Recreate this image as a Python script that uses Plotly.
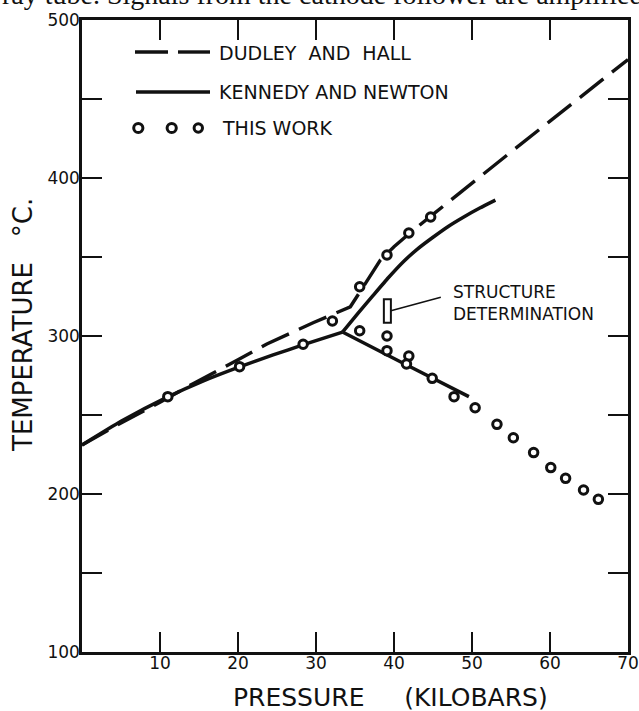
import plotly.graph_objects as go

# ---------------- data ----------------
dudley_hall_P = [0, 5, 10, 14.3, 20, 23.7, 29.7, 34.4, 36.3, 38.25, 40, 42, 45, 50, 55, 60, 65, 70]
dudley_hall_T = [231, 245, 258, 270, 285, 295, 308.5, 318.5, 333, 348, 356.5, 365, 377, 397, 416.5, 436, 455.5, 475]

kn_low_P = [0, 5, 11, 15.5, 20.2, 24.5, 28.4, 33.4]
kn_low_T = [231, 246, 261.5, 271.5, 280.5, 288, 294.5, 302.5]

kn_up_P = [33.4, 35.4, 37.3, 39.3, 41.2, 43, 45, 47, 49, 51, 53.0]
kn_up_T = [302.5, 314.5, 325.5, 337, 347, 355, 362.5, 369.5, 375.5, 381, 386]

kn_down_P = [33.4, 41.5, 49.6]
kn_down_T = [302.5, 282, 261.6]

this_work_P = [11.0, 20.2, 28.35, 32.1, 35.6, 35.6, 39.1, 39.1, 39.1, 41.9, 41.9, 41.6,
               44.7, 44.9, 47.7, 50.4, 53.2, 55.3, 57.9, 60.1, 62.0, 64.3, 66.2]
this_work_T = [261.6, 280.6, 294.8, 309.5, 331.2, 303.3, 351.3, 300.0, 290.7, 365.2, 287.3, 282.3,
               375.3, 273.2, 261.6, 254.6, 244.1, 235.6, 226.2, 216.7, 209.9, 202.5, 196.6]

structure_P = [38.7, 39.6]
structure_T = [308.4, 323.2]

x_tickvals = [0, 10, 20, 30, 40, 50, 60, 70]
x_ticktext = ["", "10", "20", "30", "40", "50", "60", "70"]
y_tickvals = [100, 150, 200, 250, 300, 350, 400, 450, 500]
y_ticktext = ["100", "", "200", "", "300", "", "400", "", "500"]

# ---------------- figure ----------------
W, H = 639, 711
L, R, T, B = 82, 11, 20, 59
PW, PH = W - L - R, H - T - B

def px(xp):
    return (xp - L) / PW

def py(yp):
    return (H - B - yp) / PH

FONT = "DejaVu Sans"
BLACK = "#111111"

fig = go.Figure()

fig.add_trace(go.Scatter(x=dudley_hall_P, y=dudley_hall_T, mode="lines",
                         line=dict(color=BLACK, width=3.4, dash="30px,11px"),
                         showlegend=False, hoverinfo="skip"))
for xs, ys in [(kn_low_P, kn_low_T), (kn_up_P, kn_up_T), (kn_down_P, kn_down_T)]:
    fig.add_trace(go.Scatter(x=xs, y=ys, mode="lines",
                             line=dict(color=BLACK, width=3.5, shape="spline", smoothing=0.5),
                             showlegend=False, hoverinfo="skip"))
fig.add_trace(go.Scatter(x=this_work_P, y=this_work_T, mode="markers",
                         marker=dict(symbol="circle", size=8.5, color="white",
                                     line=dict(color=BLACK, width=3)),
                         showlegend=False, hoverinfo="skip"))

# structure determination rectangle + leader
fig.add_shape(type="rect", x0=structure_P[0], x1=structure_P[1],
              y0=structure_T[0], y1=structure_T[1],
              line=dict(color=BLACK, width=2), fillcolor="white")
fig.add_shape(type="line", x0=structure_P[1], y0=316, x1=46.0, y1=324.5,
              line=dict(color=BLACK, width=1.5))
fig.add_annotation(x=47.3, y=321.2, xref="x", yref="y", xanchor="left", yanchor="middle",
                   text="STRUCTURE<br>DETERMINATION", showarrow=False, align="left",
                   font=dict(family=FONT, size=17, color=BLACK))

# legend (hand drawn like the reference)
fig.add_shape(type="line", xref="paper", yref="paper", x0=px(135), x1=px(168), y0=py(52), y1=py(52),
              line=dict(color=BLACK, width=3.4))
fig.add_shape(type="line", xref="paper", yref="paper", x0=px(178), x1=px(210), y0=py(52), y1=py(52),
              line=dict(color=BLACK, width=3.4))
fig.add_shape(type="line", xref="paper", yref="paper", x0=px(136), x1=px(210), y0=py(92), y1=py(92),
              line=dict(color=BLACK, width=3.5))
for cx, r in [(138.3, 4.6), (171.7, 4.6), (198.3, 4.2)]:
    fig.add_shape(type="circle", xref="paper", yref="paper",
                  xsizemode="pixel", ysizemode="pixel",
                  xanchor=px(cx), yanchor=py(128),
                  x0=-r, x1=r, y0=-r, y1=r,
                  line=dict(color=BLACK, width=3), fillcolor="white")
for txt, xp, yp in [("DUDLEY  AND  HALL", 217, 53), ("KENNEDY AND NEWTON", 217, 92), ("THIS WORK", 220, 128)]:
    fig.add_annotation(x=px(xp), y=py(yp), xref="paper", yref="paper", xanchor="left", yanchor="middle",
                       text=txt, showarrow=False, font=dict(family=FONT, size=19, color=BLACK))

# axis titles
fig.add_annotation(x=px(390), y=py(697), xref="paper", yref="paper", xanchor="center", yanchor="middle",
                   text="PRESSURE     (KILOBARS)", showarrow=False,
                   font=dict(family=FONT, size=25, color=BLACK))
fig.add_annotation(x=px(23), y=py(325), xref="paper", yref="paper", xanchor="center", yanchor="middle",
                   text="TEMPERATURE   °C.", showarrow=False, textangle=-90,
                   font=dict(family=FONT, size=26, color=BLACK))

# cut-off line of page text above the figure
fig.add_annotation(x=px(322), y=py(-6), xref="paper", yref="paper", xanchor="center", yanchor="middle",
                   text="ray tube. Signals from the cathode follower are amplified", showarrow=False,
                   font=dict(family="Liberation Serif", size=28, color=BLACK))

axis_common = dict(showgrid=False, zeroline=False, showline=True, linecolor=BLACK, linewidth=2.5,
                   mirror="allticks", ticks="inside", ticklen=20, tickwidth=2, tickcolor=BLACK,
                   automargin=False,
                   tickfont=dict(family=FONT, size=17, color=BLACK))

fig.update_xaxes(range=[0, 70], tickmode="array", tickvals=x_tickvals, ticktext=x_ticktext,
                 ticklabelstandoff=-6, **axis_common)
fig.update_yaxes(range=[100, 500], tickmode="array", tickvals=y_tickvals, ticktext=y_ticktext,
                 ticklabelstandoff=-4, **axis_common)

fig.update_layout(width=W, height=H, margin=dict(l=L, r=R, t=T, b=B, autoexpand=False),
                  paper_bgcolor="white", plot_bgcolor="white", showlegend=False)

fig.write_html("out.html", config={"displayModeBar": False},
               post_script="document.body.style.margin='0';document.body.style.overflow='hidden';")
